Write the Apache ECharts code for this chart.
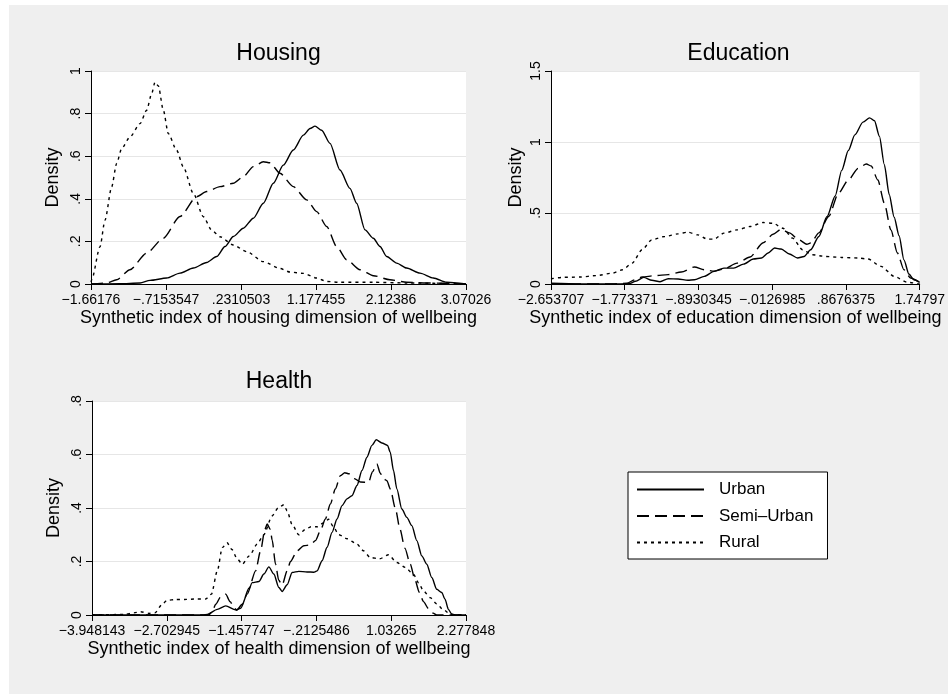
<!DOCTYPE html>
<html>
<head>
<meta charset="utf-8">
<title>Wellbeing dimensions</title>
<script src="https://cdn.jsdelivr.net/npm/echarts@6/dist/echarts.min.js"></script>
<style>
  html, body { margin: 0; padding: 0; background: #fff; }
  #main { width: 948px; height: 694px; }
</style>
</head>
<body>
<div id="main"></div>
<script>
// tick values and their Stata-style labels
const housingTicks = [-1.66176, -0.7153547, 0.2310503, 1.177455, 2.12386, 3.07026];
const housingTickLabels = ['\u22121.66176', '\u2212.7153547', '.2310503', '1.177455', '2.12386', '3.07026'];
const educationTicks = [-2.653707, -1.773371, -0.8930345, -0.0126985, 0.8676375, 1.74797];
const educationTickLabels = ['\u22122.653707', '\u22121.773371', '\u2212.8930345', '\u2212.0126985', '.8676375', '1.74797'];
const healthTicks = [-3.948143, -2.702945, -1.457747, -0.2125486, 1.03265, 2.277848];
const healthTickLabels = ['\u22123.948143', '\u22122.702945', '\u22121.457747', '\u2212.2125486', '1.03265', '2.277848'];

const groups = ['Urban', 'Semi\u2013Urban', 'Rural'];

// density curves, [x, density]
const housingUrban = [[-1.662,0],[-1.3,0.001],[-1.043,0.005],[-0.917,0.017],[-0.707,0.028],[-0.539,0.051],[-0.370,0.075],[-0.202,0.101],[-0.076,0.129],[0.029,0.176],[0.134,0.223],[0.260,0.262],[0.387,0.309],[0.513,0.379],[0.639,0.473],[0.765,0.558],[0.891,0.629],[1.018,0.699],[1.102,0.73],[1.165,0.741],[1.249,0.722],[1.354,0.66],[1.480,0.535],[1.606,0.449],[1.690,0.379],[1.796,0.254],[1.901,0.215],[1.985,0.176],[2.069,0.129],[2.195,0.098],[2.321,0.075],[2.490,0.051],[2.658,0.028],[2.826,0.008],[3.070,0]];
const housingSemi = [[-1.662,0],[-1.464,0.005],[-1.338,0.02],[-1.170,0.067],[-0.959,0.145],[-0.749,0.215],[-0.539,0.317],[-0.328,0.41],[-0.202,0.434],[-0.034,0.457],[0.134,0.473],[0.260,0.504],[0.387,0.551],[0.513,0.574],[0.597,0.569],[0.723,0.52],[0.891,0.457],[1.060,0.395],[1.186,0.34],[1.312,0.27],[1.438,0.176],[1.564,0.114],[1.733,0.067],[1.901,0.039],[2.111,0.02],[2.321,0.008],[2.532,0.005],[3.070,0]];
const housingRural = [[-1.662,0.01],[-1.653,0.02],[-1.548,0.175],[-1.485,0.3],[-1.401,0.456],[-1.338,0.566],[-1.275,0.636],[-1.170,0.69],[-1.043,0.753],[-0.959,0.816],[-0.896,0.894],[-0.854,0.948],[-0.812,0.93],[-0.749,0.816],[-0.686,0.706],[-0.581,0.628],[-0.497,0.55],[-0.370,0.425],[-0.244,0.316],[-0.139,0.253],[-0.034,0.222],[0.134,0.183],[0.303,0.152],[0.513,0.105],[0.723,0.073],[0.849,0.056],[1.018,0.05],[1.186,0.028],[1.312,0.012],[1.480,0.008],[1.901,0.008],[2.321,0.005],[3.070,0]];

const educationUrban = [[-2.654,0.005],[-2.310,0],[-1.919,0],[-1.723,0.002],[-1.645,0.019],[-1.547,0.047],[-1.450,0.026],[-1.352,0.016],[-1.254,0.037],[-1.137,0.035],[-1.020,0.026],[-0.942,0.03],[-0.824,0.054],[-0.707,0.089],[-0.590,0.112],[-0.473,0.112],[-0.355,0.14],[-0.238,0.176],[-0.140,0.183],[-0.062,0.218],[0.016,0.253],[0.094,0.246],[0.192,0.211],[0.290,0.183],[0.368,0.194],[0.446,0.241],[0.544,0.335],[0.642,0.475],[0.739,0.62],[0.817,0.80],[0.896,0.94],[0.974,1.05],[1.071,1.14],[1.150,1.17],[1.208,1.15],[1.267,1.04],[1.326,0.84],[1.384,0.63],[1.443,0.47],[1.502,0.34],[1.560,0.17],[1.619,0.07],[1.678,0.03],[1.748,0.012]];
const educationSemi = [[-2.654,0],[-1.919,0],[-1.75,0.005],[-1.65,0.03],[-1.567,0.049],[-1.411,0.059],[-1.254,0.066],[-1.098,0.084],[-0.942,0.12],[-0.82,0.1],[-0.707,0.09],[-0.590,0.105],[-0.433,0.147],[-0.277,0.19],[-0.121,0.29],[-0.003,0.35],[0.094,0.385],[0.192,0.36],[0.309,0.31],[0.40,0.28],[0.45,0.29],[0.544,0.36],[0.661,0.475],[0.778,0.639],[0.896,0.732],[1.013,0.814],[1.111,0.845],[1.169,0.831],[1.248,0.732],[1.326,0.569],[1.404,0.381],[1.482,0.218],[1.560,0.10],[1.639,0.042],[1.748,0.012]];
const educationRural = [[-2.654,0.037],[-2.505,0.047],[-2.310,0.049],[-2.114,0.059],[-1.919,0.077],[-1.801,0.1],[-1.684,0.147],[-1.567,0.241],[-1.450,0.311],[-1.293,0.335],[-1.137,0.353],[-1.020,0.365],[-0.902,0.346],[-0.785,0.316],[-0.707,0.316],[-0.590,0.358],[-0.433,0.381],[-0.277,0.405],[-0.121,0.433],[-0.003,0.428],[0.114,0.393],[0.231,0.323],[0.349,0.241],[0.466,0.206],[0.622,0.194],[0.817,0.187],[1.013,0.183],[1.130,0.176],[1.287,0.124],[1.443,0.054],[1.599,0.012],[1.748,0]];

const healthUrban = [[-3.948,0],[-2.10,0],[-2.028,0.002],[-1.862,0.021],[-1.723,0.034],[-1.557,0.019],[-1.474,0.025],[-1.364,0.078],[-1.281,0.121],[-1.170,0.125],[-1.087,0.153],[-1.004,0.18],[-0.921,0.153],[-0.838,0.103],[-0.783,0.088],[-0.700,0.113],[-0.617,0.159],[-0.506,0.163],[-0.368,0.161],[-0.257,0.160],[-0.201,0.165],[-0.118,0.203],[-0.035,0.253],[0.048,0.309],[0.131,0.359],[0.214,0.409],[0.297,0.434],[0.380,0.446],[0.463,0.484],[0.546,0.54],[0.629,0.59],[0.712,0.634],[0.784,0.655],[0.878,0.643],[0.972,0.634],[1.016,0.609],[1.071,0.54],[1.127,0.471],[1.210,0.396],[1.293,0.365],[1.376,0.334],[1.459,0.278],[1.542,0.221],[1.625,0.19],[1.708,0.14],[1.791,0.096],[1.874,0.084],[1.929,0.059],[1.985,0.021],[2.040,0.003],[2.123,0],[2.278,0]];
const healthSemi = [[-3.948,0],[-2.0,0],[-1.944,0.015],[-1.889,0.04],[-1.80,0.07],[-1.723,0.078],[-1.65,0.05],[-1.585,0.03],[-1.541,0.018],[-1.447,0.04],[-1.336,0.10],[-1.225,0.165],[-1.142,0.24],[-1.07,0.32],[-1.032,0.34],[-0.98,0.32],[-0.949,0.28],[-0.893,0.19],[-0.84,0.13],[-0.783,0.112],[-0.7,0.165],[-0.644,0.2],[-0.533,0.24],[-0.423,0.259],[-0.312,0.262],[-0.229,0.278],[-0.146,0.315],[-0.063,0.359],[0.02,0.415],[0.103,0.471],[0.186,0.521],[0.26,0.532],[0.33,0.528],[0.42,0.51],[0.52,0.497],[0.656,0.496],[0.72,0.535],[0.795,0.565],[0.85,0.53],[0.906,0.509],[0.961,0.502],[1.02,0.47],[1.10,0.40],[1.18,0.32],[1.26,0.25],[1.35,0.19],[1.43,0.13],[1.50,0.085],[1.57,0.05],[1.65,0.025],[1.72,0.008],[1.79,0],[2.278,0]];
const healthRural = [[-3.948,0],[-3.4,0.002],[-3.25,0.008],[-3.14,0.012],[-3.0,0.006],[-2.9,0.008],[-2.78,0.04],[-2.70,0.055],[-2.55,0.058],[-2.415,0.058],[-2.2,0.06],[-2.055,0.06],[-1.96,0.078],[-1.862,0.165],[-1.779,0.252],[-1.70,0.27],[-1.62,0.245],[-1.53,0.21],[-1.447,0.19],[-1.33,0.221],[-1.198,0.265],[-1.09,0.30],[-0.95,0.37],[-0.85,0.40],[-0.755,0.412],[-0.70,0.39],[-0.62,0.34],[-0.506,0.30],[-0.40,0.32],[-0.30,0.33],[-0.20,0.33],[-0.09,0.345],[-0.008,0.358],[0.07,0.33],[0.16,0.30],[0.30,0.285],[0.463,0.265],[0.57,0.24],[0.684,0.215],[0.84,0.21],[0.989,0.225],[1.127,0.196],[1.265,0.178],[1.404,0.152],[1.49,0.12],[1.57,0.09],[1.68,0.065],[1.79,0.042],[1.90,0.02],[2.01,0.004],[2.10,0],[2.278,0]];

const FONT = '"Liberation Sans", Arial, Helvetica, sans-serif';

const myChart = echarts.init(document.getElementById('main'));

// one x axis per panel, ticks placed exactly like Stata's (min, max and 4 steps)
function xAxisFor(gridIndex, ticks, labels, name) {
  return {
    type: 'value', gridIndex: gridIndex,
    min: ticks[0], max: ticks[ticks.length - 1],
    name: name, nameLocation: 'middle', nameGap: 25,
    nameTextStyle: { fontFamily: FONT, fontSize: 18, color: '#000' },
    axisLine: { show: true, onZero: false, lineStyle: { color: '#000', width: 1 } },
    axisTick: { show: true, length: 6, customValues: ticks, lineStyle: { color: '#000' } },
    axisLabel: {
      customValues: ticks, margin: 9, fontFamily: FONT, fontSize: 14, color: '#000',
      formatter: v => {
        for (let i = 0; i < ticks.length; i++) {
          if (Math.abs(ticks[i] - v) < 1e-6) return labels[i];
        }
        return '';
      }
    },
    splitLine: { show: false }
  };
}

function yAxisFor(gridIndex, max, interval, nameGap) {
  return {
    type: 'value', gridIndex: gridIndex, min: 0, max: max, interval: interval,
    name: 'Density', nameLocation: 'middle', nameGap: nameGap,
    nameTextStyle: { fontFamily: FONT, fontSize: 18, color: '#000' },
    axisLine: { show: true, onZero: false, lineStyle: { color: '#000', width: 1 } },
    axisTick: { show: true, length: 6, lineStyle: { color: '#000' } },
    axisLabel: {
      rotate: 90, margin: 8, fontFamily: FONT, fontSize: 14, color: '#000',
      formatter: v => (v === 0 ? '0' : String(+v.toFixed(2)).replace(/^0\./, '.'))
    },
    splitLine: { show: true, lineStyle: { color: '#e6e6e6', width: 1 } }
  };
}

const dashes = { 'Urban': 'solid', 'Semi\u2013Urban': [12, 6], 'Rural': [3, 4] };

function curve(name, data, idx) {
  return {
    name: name, type: 'line', data: data,
    xAxisIndex: idx, yAxisIndex: idx,
    symbol: 'none', showSymbol: false,
    smooth: 0.25, smoothMonotone: 'x',
    lineStyle: { color: '#000', width: 1.4, type: dashes[name] },
    itemStyle: { color: '#000' },
    emphasis: { disabled: true }
  };
}

function title(text, x, y) {
  return {
    type: 'text', x: x, y: y, z: 10,
    style: { text: text, fill: '#000', font: '23px ' + FONT, align: 'center', verticalAlign: 'middle' }
  };
}

myChart.setOption({
  animation: false,
  grid: [
    { left: 91, top: 71, width: 375, height: 213, show: true, backgroundColor: '#fff', borderWidth: 0 },
    { left: 551, top: 71, width: 375, height: 213, show: true, backgroundColor: '#fff', borderWidth: 0 },
    { left: 92, top: 401, width: 374, height: 214, show: true, backgroundColor: '#fff', borderWidth: 0 }
  ],
  xAxis: [
    xAxisFor(0, housingTicks, housingTickLabels, 'Synthetic index of housing dimension of wellbeing'),
    xAxisFor(1, educationTicks, educationTickLabels, 'Synthetic index of education dimension of wellbeing'),
    xAxisFor(2, healthTicks, healthTickLabels, 'Synthetic index of health dimension of wellbeing')
  ],
  yAxis: [
    yAxisFor(0, 1, 0.2, 29),
    yAxisFor(1, 1.5, 0.5, 26),
    yAxisFor(2, 0.8, 0.2, 29)
  ],
  legend: {
    data: groups, orient: 'vertical', left: 628, top: 472,
    padding: [9, 14, 8, 8], itemGap: 9.5, itemWidth: 67, itemHeight: 14,
    backgroundColor: '#fff', borderColor: '#000', borderWidth: 1,
    // only the line sample, no marker in the middle
    itemStyle: { color: 'rgba(0,0,0,0)', borderWidth: 0, opacity: 0 },
    textStyle: { fontFamily: FONT, fontSize: 17, color: '#000', padding: [0, 0, 0, 10] }
  },
  graphic: [
    { type: 'rect', z: -10, silent: true, shape: { x: 9, y: 5, width: 939, height: 689 }, style: { fill: '#efefef' } },
    title('Housing', 278.5, 53.5),
    title('Education', 738.5, 53.5),
    title('Health', 279, 382)
  ],
  series: [
    curve(groups[0], housingUrban, 0),
    curve(groups[1], housingSemi, 0),
    curve(groups[2], housingRural, 0),
    curve(groups[0], educationUrban, 1),
    curve(groups[1], educationSemi, 1),
    curve(groups[2], educationRural, 1),
    curve(groups[0], healthUrban, 2),
    curve(groups[1], healthSemi, 2),
    curve(groups[2], healthRural, 2)
  ]
});
</script>
</body>
</html>
